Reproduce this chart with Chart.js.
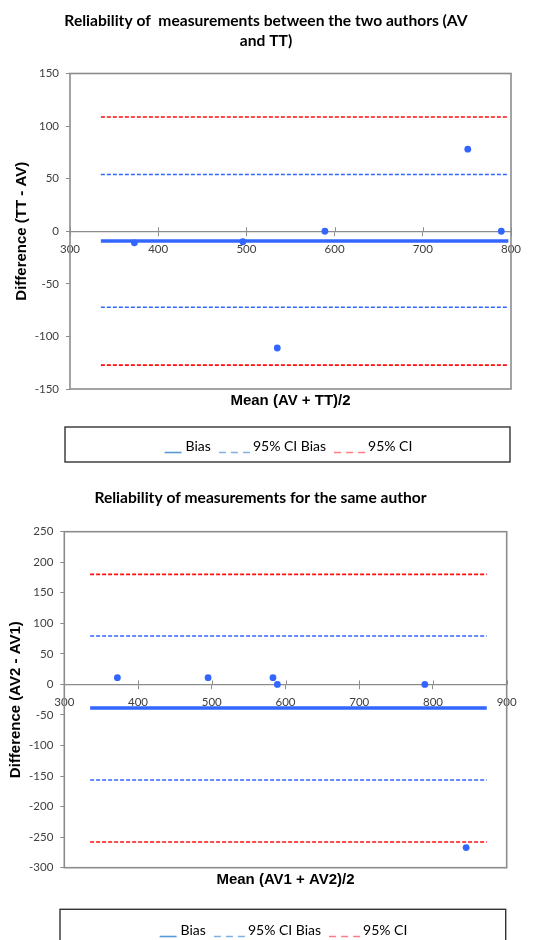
<!DOCTYPE html>
<html><head><meta charset="utf-8">
<script src="https://cdn.jsdelivr.net/npm/chart.js@4.4.1/dist/chart.umd.min.js"></script>
<style>
html,body{margin:0;padding:0;background:#fff;width:534px;height:940px;overflow:hidden;}
.box{position:absolute;left:0;width:534px;}
</style></head><body>
<div class="box" style="top:0;height:470px"><canvas id="c1" width="534" height="470"></canvas></div>
<div class="box" style="top:470px;height:490px"><canvas id="c2" width="534" height="490"></canvas></div>
<script>
// ---------- Chart 1: between the two authors ----------
const title1 = ['Reliability of  measurements between the two authors (AV', 'and TT)'];
const xTitle1 = 'Mean (AV + TT)/2';
const yTitle1 = 'Difference (TT - AV)';
const mean1 = [373, 496, 535, 589, 751, 789];
const diff1 = [-11, -10, -111, 0, 78, 0];
const bias1 = -9.3;
const ciBias1 = [53.9, -72.3];
const ci1 = [108.6, -127.3];
const span1 = [335, 797];
const xMin1 = 300, xMax1 = 800, xStep1 = 100;
const yMin1 = -150, yMax1 = 150, yStep1 = 50;

// ---------- Chart 2: same author ----------
const title2 = 'Reliability of measurements for the same author';
const xTitle2 = 'Mean (AV1 + AV2)/2';
const yTitle2 = 'Difference (AV2 - AV1)';
const mean2 = [372, 495, 583, 589, 789, 845];
const diff2 = [11, 11, 11, 0, 0, -267];
const bias2 = -38.6;
const ciBias2 = [79.2, -156.5];
const ci2 = [180.2, -257.9];
const span2 = [335, 873];
const xMin2 = 300, xMax2 = 900, xStep2 = 100;
const yMin2 = -300, yMax2 = 250, yStep2 = 50;

const legendLabels = ['Bias', '95% CI Bias', '95% CI'];

Chart.defaults.font.family = 'Lato, "Open Sans", sans-serif';

const BLUE = '#3366FF', RED = '#FF0D0D', AXIS = '#8c8c8c', TICK = '#404040';
const TITLE_FONT = '"Liberation Sans", Arial, sans-serif';

function symbolImage(color, dashed) {
  const c = document.createElement('canvas');
  c.width = 44; c.height = 18;
  const g = c.getContext('2d');
  g.strokeStyle = color; g.lineWidth = 1.6;
  g.setLineDash(dashed ? [7, 5] : []);
  g.beginPath();
  const y = 15.5;
  if (dashed) { g.moveTo(0, y); g.lineTo(31, y); } else { g.moveTo(13, y); g.lineTo(30, y); }
  g.stroke();
  return c;
}
const legendSymbols = [symbolImage('#5B9BD5', false), symbolImage('#7FB0E0', true), symbolImage('#FF7C80', true)];

function pts(xs, ys) { return xs.map((x, i) => ({x, y: ys[i]})); }
function hline(v, span) { return span.map(x => ({x, y: v})); }

const plotBorder = {
  id: 'plotBorder',
  beforeDatasetsDraw(chart) {
    const {ctx, chartArea: a} = chart;
    ctx.save();
    ctx.strokeStyle = AXIS; ctx.lineWidth = 1.6;
    ctx.strokeRect(a.left, a.top, a.right - a.left, a.bottom - a.top);
    const xs = chart.scales.x, y0 = chart.scales.y.getPixelForValue(0);
    ctx.lineWidth = 1;
    xs.ticks.forEach(t => {
      const px = Math.round(xs.getPixelForValue(t.value)) + 0.5;
      ctx.beginPath(); ctx.moveTo(px, y0 - 4); ctx.lineTo(px, y0); ctx.stroke();
    });
    ctx.restore();
  }
};
const legendFrame = {
  id: 'legendFrame',
  afterDraw(chart, args, o) {
    const {ctx, chartArea: a, legend: L} = chart;
    ctx.save();
    ctx.strokeStyle = '#333'; ctx.lineWidth = 1.4;
    const l = a.left - o.dl, r = a.right - o.dr;
    ctx.strokeRect(l, L.top + o.dt, r - l, o.h);
    ctx.restore();
  }
};

function makeChart(id, d) {
  return new Chart(document.getElementById(id), {
    type: 'scatter',
    data: {
      datasets: [
        {label: 'data', data: pts(d.mean, d.diff), backgroundColor: BLUE, borderColor: BLUE, pointRadius: 3.4, pointBorderWidth: 0, order: 5},
        {label: legendLabels[0], data: hline(d.bias, d.span), showLine: true, borderColor: BLUE, borderWidth: 3.6, pointRadius: 0, order: 1},
        {label: legendLabels[1], data: hline(d.ciBias[0], d.span), showLine: true, borderColor: BLUE, borderWidth: 1.6, borderDash: [4, 2], pointRadius: 0, order: 2},
        {label: legendLabels[1] + ' low', data: hline(d.ciBias[1], d.span), showLine: true, borderColor: BLUE, borderWidth: 1.6, borderDash: [4, 2], pointRadius: 0, order: 2},
        {label: legendLabels[2], data: hline(d.ci[0], d.span), showLine: true, borderColor: RED, borderWidth: 1.6, borderDash: [4, 2], pointRadius: 0, order: 2},
        {label: legendLabels[2] + ' low', data: hline(d.ci[1], d.span), showLine: true, borderColor: RED, borderWidth: 1.6, borderDash: [4, 2], pointRadius: 0, order: 2}
      ]
    },
    options: {
      responsive: false, animation: false, devicePixelRatio: 1,
      layout: {padding: d.pad},
      plugins: {
        tooltip: {enabled: false},
        title: {display: true, text: d.title, color: '#000', font: {size: 15.6, weight: 'bold', lineHeight: '20px'}, padding: d.titlePad},
        legend: {
          display: true, position: 'bottom', fullSize: false,
          labels: {
            usePointStyle: true, pointStyleWidth: 10, padding: 25, color: '#1a1a1a',
            font: {size: 14},
            generateLabels: () => legendLabels.map((t, i) => ({text: t, pointStyle: legendSymbols[i], fillStyle: 'transparent', strokeStyle: 'transparent', lineWidth: 0, hidden: false, datasetIndex: i + 1}))
          }
        },
        legendFrame: d.frame
      },
      scales: {
        x: {
          type: 'linear', position: {y: 0}, min: d.xMin, max: d.xMax,
          ticks: {stepSize: d.xStep, color: TICK, font: {size: 11.5}, padding: 7, maxRotation: 0},
          grid: {display: true, drawOnChartArea: false, drawTicks: true, tickLength: 4, color: AXIS},
          border: {display: true, color: AXIS, width: 1.2}
        },
        x2: {
          type: 'linear', position: 'bottom', min: d.xMin, max: d.xMax,
          ticks: {display: false}, grid: {display: false}, border: {display: false},
          title: {display: true, text: d.xTitle, color: '#000', font: {family: TITLE_FONT, size: 15, weight: 'bold'}, padding: {top: 0, bottom: d.xTitlePad}},
          afterFit: s => { s.height = d.x2h; }
        },
        y: {
          type: 'linear', position: 'left', min: d.yMin, max: d.yMax,
          ticks: {stepSize: d.yStep, color: TICK, font: {size: 11.5}, padding: 7},
          grid: {display: true, drawOnChartArea: false, drawTicks: true, tickLength: 4, color: AXIS},
          border: {display: false},
          title: {display: true, text: d.yTitle, color: '#000', font: {family: TITLE_FONT, size: 15, weight: 'bold'}, padding: {top: d.yTitlePad, bottom: 0}},
          afterFit: s => { s.width = d.yw; }
        }
      }
    },
    plugins: [plotBorder, legendFrame]
  });
}

makeChart('c1', {
  mean: mean1, diff: diff1, bias: bias1, ciBias: ciBias1, ci: ci1, span: span1,
  xMin: xMin1, xMax: xMax1, xStep: xStep1, yMin: yMin1, yMax: yMax1, yStep: yStep1,
  title: title1, xTitle: xTitle1, yTitle: yTitle1,
  pad: {left: 21, right: 23, top: 0, bottom: 7},
  titlePad: {top: 11, bottom: 22.5},
  yw: 49, yTitlePad: -8.5, x2h: 25, xTitlePad: 4,
  frame: {dl: 5, dr: 1, dt: 13, h: 35}
});
makeChart('c2', {
  mean: mean2, diff: diff2, bias: bias2, ciBias: ciBias2, ci: ci2, span: span2,
  xMin: xMin2, xMax: xMax2, xStep: xStep2, yMin: yMin2, yMax: yMax2, yStep: yStep2,
  title: title2, xTitle: xTitle2, yTitle: yTitle2,
  pad: {left: 14.3, right: 27.3, top: 0, bottom: 13},
  titlePad: {top: 18, bottom: 23.7},
  yw: 50, yTitlePad: -7.3, x2h: 30.3, xTitlePad: 9,
  frame: {dl: 4.3, dr: 1, dt: 11.3, h: 60}
});
</script>
</body></html>
